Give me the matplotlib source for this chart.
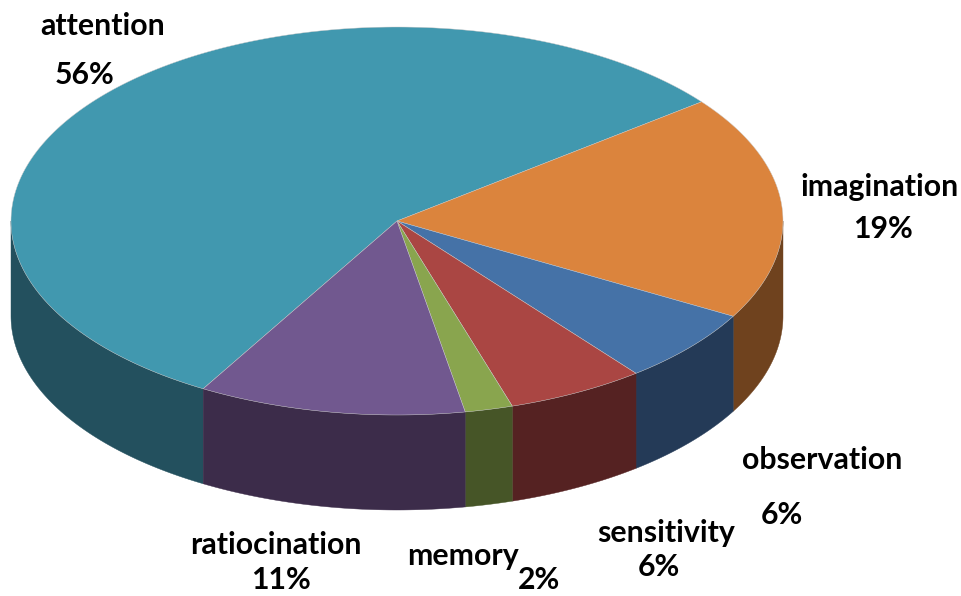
# -*- coding: utf-8 -*-
# 3D-looking pie, built by hand since matplotlib has no pie3d
import numpy as np
import matplotlib
matplotlib.use("Agg")
import matplotlib.pyplot as plt
from matplotlib.patches import Polygon

labels = ['attention', 'imagination', 'observation', 'sensitivity', 'memory', 'ratiocination']
# unrounded shares, labels show them rounded
values = [56.1, 18.7, 6.2, 5.8, 2.0, 11.2]
top_colors = ['#4198AF', '#DB843D', '#4572A7', '#AA4643', '#89A54E', '#71588F']
side_colors = ['#23505E', '#6F421E', '#243A57', '#552222', '#465527', '#3C2C4A']

# pixel geometry of the tilted disc
CX, CY = 397, 221
RX, RY = 386, 194
DEPTH = 95
START = 37.9  # attention's trailing edge, above the horizontal on the right

# label text, text centre positions in pixels
label_pos = [(103, 26), (880, 187), (822, 460), (666, 533), (463, 556), (276, 545)]
pct_pos = [(85, 75), (883, 229), (782, 515), (659, 567), (539, 580), (281, 580)]


def ell(deg):
    t = np.radians(deg)
    return CX + RX * np.cos(t), CY + RY * np.sin(t)  # y grows downwards


fig = plt.figure(figsize=(9.62, 5.96), dpi=100)
ax = fig.add_axes([0, 0, 1, 1])
ax.set_xlim(0, 962)
ax.set_ylim(596, 0)
ax.axis('off')

# slice angles in screen degrees (y down), increasing angle = clockwise on screen
edges = np.cumsum([0] + values) * 3.6 / (sum(values) / 100)
a_start = -START - edges[1]

# sides first: only the part of each slice facing the viewer (0..180 on screen)
for i in range(len(values)):
    a0, a1 = a_start + edges[i], a_start + edges[i + 1]
    for shift in (0, 360):
        lo = max(a0 + shift, 0)
        hi = min(a1 + shift, 180)
        if hi <= lo:
            continue
        tt = np.linspace(lo, hi, 80)
        x, y = ell(tt)
        pts = np.r_[np.c_[x, y], np.c_[x[::-1], y[::-1] + DEPTH]]
        ax.add_patch(Polygon(pts, closed=True, fc=side_colors[i], ec=side_colors[i], lw=0.3))

# top faces
for i in range(len(values)):
    a0, a1 = a_start + edges[i], a_start + edges[i + 1]
    tt = np.linspace(a0, a1, 200)
    x, y = ell(tt)
    pts = np.r_[[[CX, CY]], np.c_[x, y]]
    ax.add_patch(Polygon(pts, closed=True, fc=top_colors[i], ec='#c8c8c8', lw=0.3))

font = dict(family='Lato', weight='bold', fontsize=21.8, color='black', ha='center', va='center')
for name, val, lp, pp in zip(labels, values, label_pos, pct_pos):
    ax.text(lp[0], lp[1], name, **font)
    ax.text(pp[0], pp[1], f'{val:.0f}%', **font)

fig.savefig('out.png', dpi=100)
